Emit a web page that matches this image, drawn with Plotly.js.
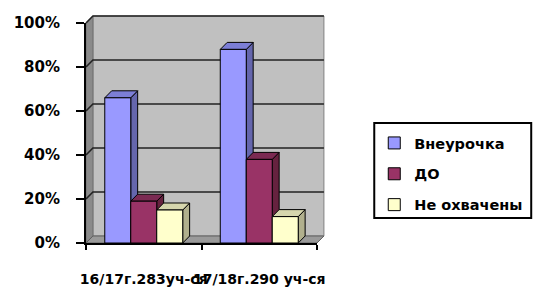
<!DOCTYPE html>
<html>
<head>
<meta charset="utf-8">
<script src="https://cdn.plot.ly/plotly-3.0.1.min.js"></script>
<style>html,body{margin:0;padding:0;background:#fff;}#chart{width:540px;height:289px;}</style>
</head>
<body>
<div id="chart"></div>
<script>
// ---- data ----
const categories = ['16/17г.283уч-ся', '17/18г.290 уч-ся'];
const seriesNames = ['Внеурочка', 'ДО', 'Не охвачены'];
const vneurochka = [66, 88];
const dopObr = [19, 38];
const neOhvacheny = [15, 12];
const yTickVals = [0, 20, 40, 60, 80, 100];

// ---- styles ----
const frontColors = ['#9999ff', '#993366', '#ffffcc'];
const sideColors = ['#6566ad', '#66223f', '#b1b08d'];
const topColors = ['#7c7ed6', '#7b2a52', '#d6d6ad'];
const seriesValues = [vneurochka, dopObr, neOhvacheny];

const FONT = {family: 'DejaVu Sans', size: 14, color: '#000', weight: 'bold'};
const L = 86, R = 220, T = 23, B = 46;
const W = 540 - L - R, H = 289 - T - B;
const yMax = 100;
const depthPx = 7;
const bargap = 0.325;
const xMin = -0.5, xMax = categories.length - 0.5;

const catIdx = categories.map((c, i) => i);

const traces = seriesValues.map((vals, i) => ({
  type: 'bar',
  name: seriesNames[i],
  x: catIdx,
  y: vals,
  legendgroup: 'g' + i,
  marker: {color: frontColors[i], line: {color: '#000', width: 1}},
  hoverinfo: 'y'
}));

// depth offsets
const dxd = depthPx / (W / (xMax - xMin));
const dyd = depthPx / (H / yMax);
const dxp = depthPx / W, dyp = depthPx / H;

const shapes = [];
// back wall
shapes.push({type: 'rect', xref: 'paper', yref: 'paper', x0: dxp, x1: 1 + dxp, y0: dyp, y1: 1 + dyp,
  fillcolor: '#c0c0c0', line: {color: '#808080', width: 1}, layer: 'below'});
// left wall
shapes.push({type: 'path', xref: 'paper', yref: 'paper',
  path: `M0,0 L${dxp},${dyp} L${dxp},${1 + dyp} L0,1 Z`,
  fillcolor: '#8a8a8a', line: {color: '#707070', width: 1}, layer: 'below'});
// floor
shapes.push({type: 'path', xref: 'paper', yref: 'paper',
  path: `M0,0 L1,0 L${1 + dxp},${dyp} L${dxp},${dyp} Z`,
  fillcolor: '#9a9a9a', line: {color: '#606060', width: 1}, layer: 'below'});
// gridlines on walls
yTickVals.forEach(v => {
  if (v === 0) return;
  const yp = v / yMax;
  shapes.push({type: 'path', xref: 'paper', yref: 'paper',
    path: `M0,${yp} L${dxp},${yp + dyp} L${1 + dxp},${yp + dyp}`,
    line: {color: '#222', width: 1.6}, layer: 'below'});
});
// 3D faces of bars
const groupW = 1 - bargap, bw = groupW / seriesValues.length;
seriesValues.forEach((vals, i) => {
  vals.forEach((v, j) => {
    const x0 = catIdx[j] - groupW / 2 + i * bw;
    const x1 = x0 + bw;
    shapes.push({type: 'path', xref: 'x', yref: 'y',
      path: `M${x1},0 L${x1 + dxd},${dyd} L${x1 + dxd},${v + dyd} L${x1},${v} Z`,
      fillcolor: sideColors[i], line: {color: '#000', width: 1}, layer: 'below'});
    shapes.push({type: 'path', xref: 'x', yref: 'y',
      path: `M${x0},${v} L${x1},${v} L${x1 + dxd},${v + dyd} L${x0 + dxd},${v + dyd} Z`,
      fillcolor: topColors[i], line: {color: '#000', width: 1}, layer: 'below'});
  });
});
// legend frame
const lgX0 = (378 - L) / W, lgX1 = (537 - L) / W;
const lgY0 = (289 - B - 218) / H, lgY1 = (289 - B - 123) / H;
shapes.push({type: 'rect', xref: 'paper', yref: 'paper', x0: lgX0, x1: lgX1, y0: lgY0, y1: lgY1,
  line: {color: '#000', width: 2}, fillcolor: 'rgba(0,0,0,0)', layer: 'above'});

const layout = {
  width: 540, height: 289,
  margin: {l: L, r: R, t: T, b: B, pad: 0},
  paper_bgcolor: '#fff', plot_bgcolor: 'rgba(0,0,0,0)',
  barmode: 'group', bargap: bargap, bargroupgap: 0,
  showlegend: true,
  legend: {
    x: lgX0, xanchor: 'left', y: (289 - B - 127) / H, yanchor: 'top',
    font: Object.assign({}, FONT, {size: 14.5}), bgcolor: 'rgba(0,0,0,0)', borderwidth: 0,
    traceorder: 'grouped', tracegroupgap: 9
  },
  xaxis: {
    type: 'linear', range: [xMin, xMax], fixedrange: true,
    tickmode: 'array', tickvals: catIdx, ticktext: categories, tickangle: 0,
    ticks: '', showgrid: false, zeroline: false,
    showline: true, linecolor: '#000', linewidth: 2,
    tickfont: FONT, ticklabelstandoff: 22,
    minor: {tickmode: 'array', tickvals: [xMin, 0.5, xMax], ticks: 'outside', ticklen: 5, tickwidth: 2, tickcolor: '#000', showgrid: false}
  },
  yaxis: {
    range: [0, yMax], fixedrange: true,
    tickmode: 'array', tickvals: yTickVals, ticktext: yTickVals.map(v => v + '%'),
    ticks: 'outside', ticklen: 8, tickwidth: 2, tickcolor: '#000',
    showgrid: false, zeroline: false,
    showline: true, linecolor: '#000', linewidth: 2,
    tickfont: Object.assign({}, FONT, {size: 15}), ticklabelstandoff: 13
  },
  shapes: shapes
};

Plotly.newPlot('chart', traces, layout, {staticPlot: true, displayModeBar: false});
</script>
</body>
</html>
